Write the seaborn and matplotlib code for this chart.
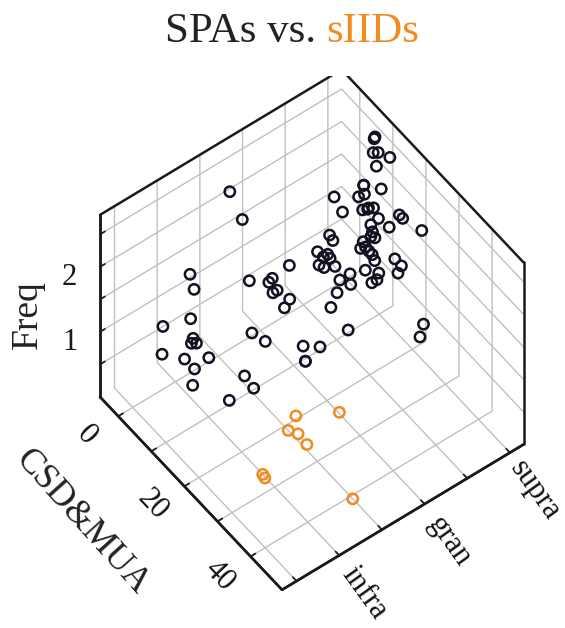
import numpy as np
import matplotlib
matplotlib.use("Agg")
import matplotlib.pyplot as plt
import seaborn as sns

# SPAs: CSD&MUA count, cortical layer position, frequency
spa_csd = [9, 9, 10, 11, 12, 14, 2, 5, 11, 11, 11, 12, 15, 8, 10, 14, 13, 14, 15, 17,
           21, 22, 20, 16, 17, 17, 18, 16, 17, 16, 18, 19, 20, 24, 26, 26, 22, 23, 23, 20,
           27, 11, 12, 12, 13, 13, 14, 14, 15, 16, 12, 19, 21, 19, 21, 23, 29, 35, 36, 7,
           9, 11, 12, 12, 14, 14, 17, 18, 5, 9, 10, 11, 10, 19, 22, 5, 10, 15, 13, 14,
           27, 29, 30, 30, 24, 27, 23]
spa_layer = [2.99, 2.98, 2.93, 2.95, 2.89, 2.97, 1.56, 1.59, 2.78, 2.78, 2.72, 2.75, 2.83,
             2.55, 2.57, 2.72, 2.69, 2.71, 2.74, 2.72, 2.81, 2.81, 2.73, 2.67, 2.65, 2.63,
             2.64, 2.58, 2.57, 2.55, 2.57, 2.57, 2.56, 2.64, 2.64, 2.60, 2.53, 2.47, 2.41,
             2.45, 2.84, 2.38, 2.38, 2.20, 2.23, 2.28, 2.27, 2.14, 2.16, 2.25, 1.87, 2.31,
             2.24, 2.19, 2.08, 1.93, 1.90, 2.55, 2.47, 0.90, 0.87, 1.44, 1.67, 1.63, 1.60,
             1.65, 1.68, 1.58, 0.66, 0.83, 0.82, 0.82, 0.80, 1.16, 1.20, 0.65, 0.72, 0.81,
             0.72, 0.66, 1.45, 1.57, 1.36, 1.36, 0.88, 0.87, 0.74]
spa_freq = [2.68, 2.66, 2.54, 2.58, 2.47, 2.65, 2.59, 2.30, 2.21, 2.21, 2.08, 2.15, 2.33,
            2.05, 1.91, 2.07, 2.01, 2.06, 2.11, 2.07, 2.27, 2.27, 2.09, 1.96, 1.92, 1.86,
            1.89, 1.77, 1.75, 1.69, 1.74, 1.74, 1.71, 1.89, 1.89, 1.81, 1.65, 1.65, 1.65,
            1.65, 2.33, 1.76, 1.73, 1.70, 1.65, 1.65, 1.65, 1.65, 1.65, 1.65, 1.75, 1.65,
            1.65, 1.65, 1.65, 1.65, 1.65, 1.55, 1.47, 2.11, 2.01, 1.80, 1.71, 1.68, 1.65,
            1.65, 1.65, 1.65, 1.39, 1.59, 1.35, 1.33, 1.29, 1.65, 1.65, 0.97, 1.11, 1.33,
            1.12, 0.97, 1.65, 1.65, 1.65, 1.65, 1.48, 1.46, 1.16]

# sIIDs
siid_csd = [19.4, 23.5, 21.2, 22.9, 25.8, 26.4, 27.3, 40.7]
siid_layer = [1.66, 2.01, 1.50, 1.55, 1.54, 1.00, 0.99, 1.50]
siid_freq = [0, 0, 0, 0, 0, 0, 0, 0]

x_ticks = [0, 10, 20, 30, 40]
x_labels = ['0', '', '20', '', '40']
y_ticks = [0.5, 1, 1.5, 2, 2.5, 3]
y_labels = ['', 'infra', '', 'gran', '', 'supra']
z_ticks = [0.5, 1, 1.5, 2, 2.5]
z_labels = ['', '1', '', '2', '']

XLIM = (-5.5, 49.5)
YLIM = (0.33, 3.16)
ZLIM = (0, 2.8)

sns.set_theme(style="white")
plt.rcParams['font.family'] = ['Liberation Serif', 'DejaVu Serif']
plt.rcParams['grid.color'] = '#c0c0c0'
plt.rcParams['grid.linewidth'] = 1.0
plt.rcParams['grid.linestyle'] = '-'

ink = '#111122'
orange = '#f28a1c'

fig = plt.figure(figsize=(5.65, 6.28), dpi=100)
ax = fig.add_axes([0.07876, 0.04944, 0.92124, 0.82882], projection='3d')
ax.set_proj_type('ortho')
ax.view_init(elev=53, azim=-37)
ax.set_box_aspect((1, 1, 1), zoom=0.977)
ax.set_xlim(*XLIM)
ax.set_ylim(*YLIM)
ax.set_zlim(*ZLIM)

ax.scatter(spa_csd, spa_layer, spa_freq, s=55, facecolors='none',
           edgecolors=ink, linewidths=1.8, depthshade=False)
ax.scatter(siid_csd, siid_layer, siid_freq, s=55, facecolors='none',
           edgecolors=orange, linewidths=1.8, depthshade=False)

for a in (ax.xaxis, ax.yaxis, ax.zaxis):
    a.set_pane_color((1, 1, 1, 0))
    a.pane.set_edgecolor((1, 1, 1, 0))
    a.line.set_color('k')
    a.line.set_linewidth(1.8)
    a._axinfo['tick']['inward_factor'] = 0.0
    a._axinfo['tick']['outward_factor'] = 0.25
    a.offsetText.set_visible(False)
ax.zaxis.set_ticks_position('lower')
ax.zaxis.set_label_position('lower')

# ticks: x and y labels are placed by hand along the front edges
ax.set_xticks(x_ticks)
ax.set_yticks(y_ticks)
ax.set_zticks(z_ticks, z_labels)
ax.xaxis.set_ticklabels([])
ax.yaxis.set_ticklabels([])
ax.tick_params(axis='x', colors='k', width=1.5)
ax.tick_params(axis='y', colors='k', width=1.5)
ax.tick_params(axis='z', labelsize=22, pad=6, colors='k', width=1.5)
ax.xaxis.label.set_visible(False)
ax.yaxis.label.set_visible(False)
ax.zaxis.label.set_visible(False)

x0, x1 = XLIM
y0, y1 = YLIM
z0, z1 = ZLIM
for xv, lab in zip(x_ticks, x_labels):
    if lab:
        ax.text(xv, y0 - 0.37, z0, lab, zdir='x', fontsize=22,
                ha='center', va='center', color='#111111')
for yv, lab in zip(y_ticks, y_labels):
    if lab:
        ax.text(x1 + 7.5, yv, z0 - 0.17, lab, zdir=(1, 0, -0.017), fontsize=22,
                ha='center', va='center', color='#111111')

# box outline
edges = [([x0, x0], [y0, y1], [z1, z1]), ([x0, x1], [y1, y1], [z1, z1]),
         ([x0, x0], [y0, y0], [z0, z1]), ([x1, x1], [y1, y1], [z0, z1]),
         ([x0, x1], [y0, y0], [z0, z0]), ([x1, x1], [y0, y1], [z0, z0])]
for ex, ey, ez in edges:
    ax.plot(ex, ey, ez, color='k', lw=1.8)

# axis titles
fig.text(28 / 565, 1 - 315 / 628, 'Freq', fontsize=27, rotation=90,
         ha='center', va='center', color='#222222')
fig.text(82 / 565, 1 - 522 / 628, 'CSD&MUA', fontsize=26, rotation=-48,
         ha='center', va='center', color='#222222')

# two-colour title
r = fig.canvas.get_renderer()
t1 = fig.text(0, 0.933, 'SPAs vs. ', fontsize=31, color='#222222', va='baseline')
t2 = fig.text(0, 0.933, 'sIIDs', fontsize=31, color=orange, va='baseline')
w1 = t1.get_window_extent(r).width
w2 = t2.get_window_extent(r).width
cx = 292
t1.set_x((cx - (w1 + w2) / 2) / 565)
t2.set_x((cx - (w1 + w2) / 2 + w1) / 565)

fig.savefig('out.png', dpi=100)
